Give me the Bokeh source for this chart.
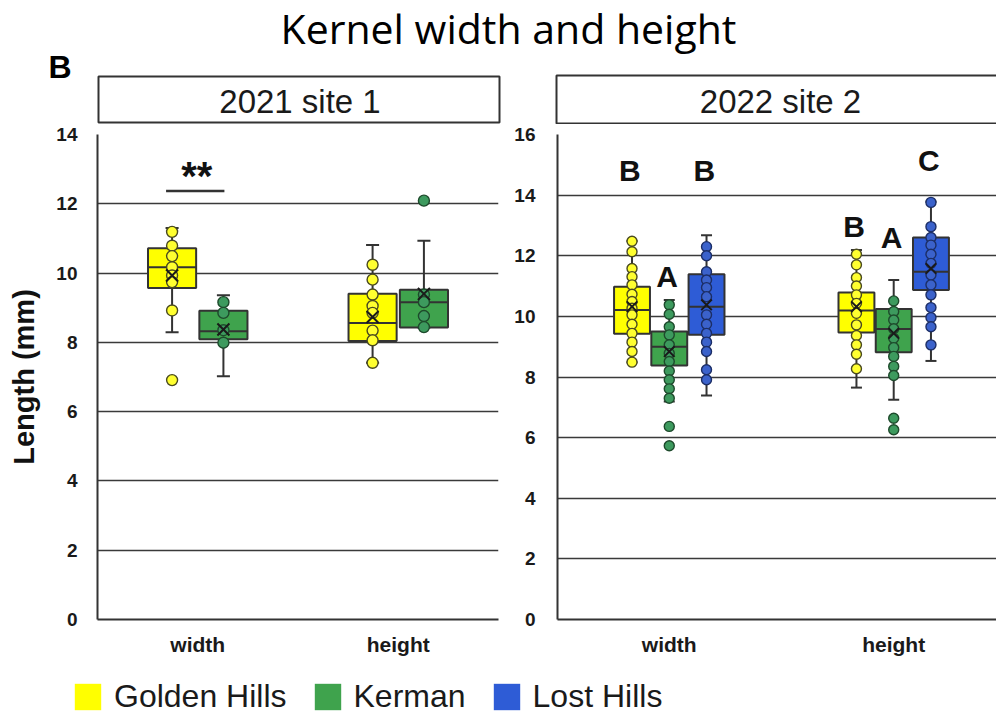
from bokeh.plotting import figure
from bokeh.models import Range1d, FixedTicker, ColumnDataSource, Label, Legend, LegendItem
from bokeh.layouts import column, row
from bokeh.embed import file_html
from bokeh.resources import INLINE
from bokeh.core.properties import value

# ---------------------------------------------------------------- data
categories = ["width", "height"]
cultivars = ["Golden Hills", "Kerman", "Lost Hills"]
box_colors = ["#FFFF00", "#3FA34D", "#2E5CD6"]
point_colors = ["#FFFF30", "#3D9A5E", "#3B62CB"]
point_edges = ["#4A4A20", "#1E4A2C", "#1C2E66"]

# 2021 site 1 -- individual kernels (mm)
s1_gh_width = [11.19, 10.79, 10.49, 10.17, 9.93, 9.74, 8.92, 6.91]
s1_ke_width = [9.16, 8.85, 8.35, 7.99]
s1_gh_height = [10.24, 9.81, 9.38, 9.05, 8.85, 8.34, 8.06, 7.41]
s1_ke_height = [12.09, 9.38, 9.16, 8.76, 8.44]

# 2022 site 2 -- individual kernels (mm)
s2_gh_width = [12.48, 12.13, 11.58, 11.31, 11.04, 10.73, 10.49, 10.27, 10.05, 9.74, 9.44, 9.15, 8.84, 8.49]
s2_ke_width = [10.38, 10.07, 9.66, 9.39, 9.06, 8.78, 8.51, 8.20, 7.91, 7.61, 7.30, 6.37, 5.73]
s2_lh_width = [12.30, 12.00, 11.47, 11.20, 10.95, 10.65, 10.05, 9.74, 9.44, 9.15, 8.84, 8.24, 7.91]
s2_gh_height = [12.05, 11.70, 11.28, 11.00, 10.71, 10.43, 10.10, 9.72, 9.37, 9.06, 8.75, 8.27]
s2_ke_height = [10.51, 10.16, 9.88, 9.59, 9.28, 8.97, 8.68, 8.35, 8.05, 6.64, 6.26]
s2_lh_height = [13.76, 12.96, 12.60, 12.35, 12.05, 11.75, 11.37, 11.04, 10.71, 10.29, 9.96, 9.66, 9.06]

# box summaries: whisker low, Q1, median, Q3, whisker high, mean
s1_gh_width_box = [8.29, 9.57, 10.17, 10.72, 11.30, 9.93]
s1_ke_width_box = [7.02, 8.09, 8.32, 8.91, 9.36, 8.37]
s1_gh_height_box = [7.41, 8.04, 8.56, 9.40, 10.81, 8.73]
s1_ke_height_box = [8.43, 8.43, 9.16, 9.52, 10.93, 9.40]

s2_gh_width_box = [8.49, 9.43, 10.21, 10.98, 12.49, 10.32]
s2_ke_width_box = [7.19, 8.38, 9.00, 9.50, 10.54, 8.84]
s2_lh_width_box = [7.39, 9.39, 10.32, 11.39, 12.68, 10.38]
s2_gh_height_box = [7.65, 9.47, 10.19, 10.79, 12.19, 10.32]
s2_ke_height_box = [7.25, 8.82, 9.58, 10.24, 11.20, 9.44]
s2_lh_height_box = [8.53, 10.87, 11.47, 12.60, 13.78, 11.58]

# significance annotations
s1_sig_text = "**"
s1_sig_level = 12.37
s2_letters = ["B", "A", "B", "B", "A", "C"]
s2_letter_y = [14.81, 11.32, 14.81, 12.98, 12.61, 15.14]

y_label = "Length (mm)"
panel_titles = ["2021 site 1", "2022 site 2"]
main_title = "Kernel width and height"
panel_tag = "B"

# ---------------------------------------------------------------- style
FONT = "Liberation Sans"
DARK = "#333333"
cat_pos = {"width": 0.5, "height": 1.5}


def build_sources(entries, offsets, bw, capw):
    b = dict(x=[], bl=[], br=[], cl=[], cr=[], lo=[], q1=[], med=[], q3=[], hi=[], mean=[], fill=[])
    pt = dict(x=[], y=[], fill=[], line=[])
    for cat, ci, pts, box in entries:
        x = cat_pos[cat] + offsets[ci]
        lo, q1, med, q3, hi, mean = box
        b["x"].append(x)
        b["bl"].append(x - bw / 2)
        b["br"].append(x + bw / 2)
        b["cl"].append(x - capw / 2)
        b["cr"].append(x + capw / 2)
        b["lo"].append(lo)
        b["q1"].append(q1)
        b["med"].append(med)
        b["q3"].append(q3)
        b["hi"].append(hi)
        b["mean"].append(mean)
        b["fill"].append(box_colors[ci])
        for v in pts:
            pt["x"].append(x)
            pt["y"].append(v)
            pt["fill"].append(point_colors[ci])
            pt["line"].append(point_edges[ci])
    return ColumnDataSource(b), ColumnDataSource(pt)


def make_panel(width, xr, ymax, entries, offsets, bw, capw, psize, msize, border_left, border_right, label_standoff):
    p = figure(width=width, height=541, x_range=Range1d(*xr), y_range=Range1d(0, ymax),
               toolbar_location=None, output_backend="svg",
               min_border_left=border_left, min_border_right=border_right,
               min_border_top=10, min_border_bottom=46)
    p.outline_line_color = None
    p.xgrid.visible = False
    p.ygrid.ticker = FixedTicker(ticks=list(range(0, ymax + 1, 2)))
    p.ygrid.grid_line_color = "#3A3A3A"
    p.ygrid.grid_line_width = 1.6

    p.yaxis.ticker = FixedTicker(ticks=list(range(0, ymax + 1, 2)))
    p.xaxis.ticker = FixedTicker(ticks=[cat_pos[c] for c in categories])
    p.xaxis.major_label_overrides = {cat_pos[c]: c for c in categories}
    for ax in (p.xaxis[0], p.yaxis[0]):
        ax.axis_line_color = DARK
        ax.axis_line_width = 2
        ax.major_tick_line_color = None
        ax.minor_tick_line_color = None
        ax.major_label_text_font = FONT
        ax.major_label_text_font_style = "bold"
        ax.major_label_text_color = "#1A1A1A"
    p.yaxis.major_label_text_font_size = "19px"
    p.yaxis.major_label_standoff = label_standoff
    p.xaxis.major_label_text_font_size = "21px"
    p.xaxis.major_label_standoff = 7

    bs, ps = build_sources(entries, offsets, bw, capw)
    p.segment(x0="x", y0="q3", x1="x", y1="hi", source=bs, line_color=DARK, line_width=2)
    p.segment(x0="x", y0="lo", x1="x", y1="q1", source=bs, line_color=DARK, line_width=2)
    p.segment(x0="cl", y0="hi", x1="cr", y1="hi", source=bs, line_color=DARK, line_width=2)
    p.segment(x0="cl", y0="lo", x1="cr", y1="lo", source=bs, line_color=DARK, line_width=2)
    p.vbar(x="x", width=bw, top="q3", bottom="q1", source=bs, fill_color="fill",
           line_color=DARK, line_width=2)
    p.segment(x0="bl", y0="med", x1="br", y1="med", source=bs, line_color=DARK, line_width=2)
    p.scatter(x="x", y="y", source=ps, marker="circle", size=psize, fill_color="fill",
              line_color="line", line_width=1.4)
    p.scatter(x="x", y="mean", source=bs, marker="x", size=msize, line_color="#1A1A1A", line_width=2)
    return p, bs


# ---------------------------------------------------------------- left panel
entries1 = [
    ("width", 0, s1_gh_width, s1_gh_width_box),
    ("width", 1, s1_ke_width, s1_ke_width_box),
    ("height", 0, s1_gh_height, s1_gh_height_box),
    ("height", 1, s1_ke_height, s1_ke_height_box),
]
pL, bsL = make_panel(511, (0, 2), 14, entries1, {0: -0.128, 1: 0.128}, 0.24, 0.065, 11, 17,
                     97, 13, 14)
pL.yaxis.axis_label = y_label
pL.yaxis.axis_label_text_font = FONT
pL.yaxis.axis_label_text_font_style = "bold"
pL.yaxis.axis_label_text_font_size = "29px"
pL.yaxis.axis_label_text_color = "#111111"
pL.yaxis.axis_label_standoff = 13

sig_x = bsL.data["x"][:2]
pL.segment(x0=[sig_x[0] - 0.03], y0=[s1_sig_level], x1=[sig_x[1] + 0.005], y1=[s1_sig_level],
           line_color=DARK, line_width=2.5)
pL.add_layout(Label(x=(sig_x[0] + sig_x[1]) / 2 - 0.005, y=s1_sig_level + 0.42, text=s1_sig_text,
                    text_font=FONT, text_font_style="bold", text_font_size="40px",
                    text_align="center", text_baseline="middle", text_color="#111111"))

# ---------------------------------------------------------------- right panel
entries2 = [
    ("width", 0, s2_gh_width, s2_gh_width_box),
    ("width", 1, s2_ke_width, s2_ke_width_box),
    ("width", 2, s2_lh_width, s2_lh_width_box),
    ("height", 0, s2_gh_height, s2_gh_height_box),
    ("height", 1, s2_ke_height, s2_ke_height_box),
    ("height", 2, s2_lh_height, s2_lh_height_box),
]
pR, bsR = make_panel(485, (0.002, 1.958), 16, entries2, {0: -0.166, 1: 0.0, 2: 0.166}, 0.16, 0.049,
                     10, 15, 45, 0, 16)
pR.text(x=[v - 0.01 for v in bsR.data["x"]], y=s2_letter_y, text=s2_letters,
        text_font=value(FONT), text_font_style="bold", text_font_size="30px",
        text_align="center", text_baseline="middle", text_color="#111111")

# ---------------------------------------------------------------- header strip
top = figure(width=996, height=124, x_range=Range1d(0, 996), y_range=Range1d(124, 0),
             toolbar_location=None, output_backend="svg",
             min_border_left=0, min_border_right=0, min_border_top=0, min_border_bottom=0,
             x_axis_location=None, y_axis_location=None)
top.outline_line_color = None
top.grid.visible = False
top.quad(left=[98, 556], right=[499, 1012], top=[76, 75], bottom=[122, 123],
         fill_color="white", line_color=DARK, line_width=2)
top.add_layout(Label(x=508, y=27, text=main_title, text_font="Open Sans",
                     text_font_size="41px", text_align="center", text_baseline="middle",
                     text_color="#000000"))
top.add_layout(Label(x=59.5, y=66.5, text=panel_tag, text_font=FONT, text_font_style="bold",
                     text_font_size="32px", text_align="center", text_baseline="middle",
                     text_color="#000000"))
for tx, t in zip([299.5, 780], panel_titles):
    top.add_layout(Label(x=tx, y=100.5, text=t, text_font=FONT, text_font_size="33px",
                         text_align="center", text_baseline="middle", text_color="#1A1A1A"))

# ---------------------------------------------------------------- legend strip
leg = figure(width=996, height=52, x_range=Range1d(0, 1), y_range=Range1d(0, 1),
             toolbar_location=None, output_backend="svg",
             min_border_left=0, min_border_right=0, min_border_top=0, min_border_bottom=0,
             x_axis_location=None, y_axis_location=None)
leg.outline_line_color = None
leg.grid.visible = False
legend_boxes = [s2_gh_width_box, s2_ke_width_box, s2_lh_width_box]
items = []
for i, (name, c) in enumerate(zip(cultivars, box_colors)):
    src = ColumnDataSource(dict(x=[i], top=[legend_boxes[i][3]], bottom=[legend_boxes[i][1]]))
    r = leg.vbar(x="x", width=0.5, top="top", bottom="bottom", source=src,
                 fill_color=c, line_color=None)
    r.visible = False  # swatch only; data lie outside this strip
    items.append(LegendItem(label=name, renderers=[r]))
legend = Legend(items=items, orientation="horizontal", location=(71, 2), margin=0,
                padding=0, spacing=24, glyph_width=33, glyph_height=33, label_height=33,
                label_standoff=10, label_text_font=FONT, label_text_font_size="32px",
                label_text_color="#1A1A1A", border_line_color=None, background_fill_alpha=0,
                inactive_fill_alpha=0)
leg.add_layout(legend)

layout = column(top, row(pL, pR), leg)
open("out.html", "w").write(file_html(layout, INLINE))
